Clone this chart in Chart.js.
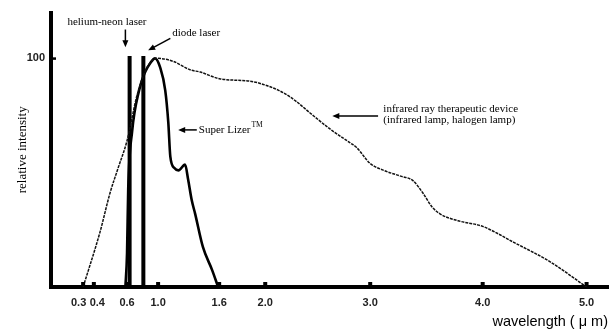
<!DOCTYPE html>
<html>
<head>
<meta charset="utf-8">
<script src="https://cdn.jsdelivr.net/npm/chart.js@4.4.1/dist/chart.umd.min.js"></script>
<style>
    html, body { margin: 0; padding: 0; background: #fff; }
    #wrap { width: 614px; height: 329px; }
</style>
</head>
<body>
<div id="wrap"><canvas id="spectrumChart"></canvas></div>
<script>
// wavelength ticks printed on the axis (µm)
const tickValues = [0.3, 0.4, 0.6, 1.0, 1.6, 2.0, 3.0, 4.0, 5.0];
const yTickValues = [100];
// the crowded 0.3 / 0.4 labels are pushed apart in the print
const tickLabelNudge = [-4.5, 3.5, 0, 0, 0, 0, 0, 0, 0];

// the printed axis is not evenly spaced: wavelength -> linear position
const axisKnotsValue = [0, 0.4, 0.6, 1.0, 1.6, 2.0, 3.0, 4.0, 5.0, 6.0];
const axisKnotsPos   = [0, 0.4, 0.71, 1.0, 1.57, 2.0, 2.98, 4.03, 5.0, 6.0];

// infrared lamp (halogen) spectrum
const lampX = [0.30, 0.437, 0.497, 0.546, 0.60, 0.73, 0.858, 0.987, 1.147, 1.315, 1.414, 1.61, 1.87, 2.02, 2.17,
               2.30, 2.43, 2.62, 2.81, 2.87, 3.0, 3.12, 3.27, 3.38, 3.47, 3.55, 3.62, 3.78, 4.0, 4.3, 4.65, 5.0];
const lampY = [0, 24, 41, 52, 64, 84, 96, 100, 98.7, 95, 94, 91, 90, 88, 85,
               81, 76, 69, 63, 61, 54, 51, 48.5, 46.5, 41, 35, 32, 29, 26.5, 19.5, 11, 0];

// Super Lizer spectrum
const lizerX = [0.59, 0.60, 0.615, 0.665, 0.755, 0.833, 0.90, 0.961, 1.02, 1.07, 1.10, 1.12, 1.16, 1.20,
                1.265, 1.295, 1.33, 1.364, 1.44, 1.53, 1.59];
const lizerY = [0, 15, 43, 68, 86, 94, 98, 100, 96, 86, 72, 57, 52, 51,
                53.5, 47, 38, 32, 17.5, 7.5, 0];

// laser lines
const heNeX = [0.633, 0.633];
const heNeY = [0, 101];
const diodeX = [0.81, 0.81];
const diodeY = [0, 101];

function interp(v, xs, ys) {
    for (let i = 1; i < xs.length; i++) {
        if (v <= xs[i]) {
            const t = (v - xs[i - 1]) / (xs[i] - xs[i - 1]);
            return ys[i - 1] + t * (ys[i] - ys[i - 1]);
        }
    }
    return ys[ys.length - 1];
}
const warp = v => interp(v, axisKnotsValue, axisKnotsPos);
const unwarp = u => interp(u, axisKnotsPos, axisKnotsValue);

// linear scale with the uneven spacing of the printed axis
class WarpScale extends Chart.LinearScale {
    getPixelForValue(value) {
        return value === null ? NaN : super.getPixelForValue(warp(value));
    }
    getValueForPixel(pixel) {
        return unwarp(super.getValueForPixel(pixel));
    }
    getPixelForTick(index) {
        return super.getPixelForTick(index) + (tickLabelNudge[index] || 0);
    }
}
WarpScale.id = 'warp';
WarpScale.defaults = Chart.LinearScale.defaults;
Chart.register(WarpScale);

const toPoints = (xs, ys) => xs.map((x, i) => ({x: x, y: ys[i]}));

// text and arrows, in data coordinates
const notes = [
    {text: 'helium-neon laser', x: 0.479, y: 115.7, align: 'center'},
    {text: 'diode laser', x: 1.138, y: 110.9, align: 'left'},
    {text: 'Super Lizer', x: 1.40, y: 68.7, align: 'left', sup: 'TM'},
    {text: 'infrared ray therapeutic device', x: 3.117, y: 77.8, align: 'left'},
    {text: '(infrared lamp, halogen lamp)', x: 3.117, y: 73.0, align: 'left'}
];
const arrows = [
    {from: [0.59, 112.6], to: [0.59, 104.8]},
    {from: [1.12, 108.7], to: [0.872, 103.5]},
    {from: [1.38, 68.7], to: [1.197, 68.7]},
    {from: [3.07, 74.8], to: [2.639, 74.8]}
];

const notesPlugin = {
    id: 'notes',
    afterDatasetsDraw(chart) {
        const {ctx, scales: {x, y}} = chart;
        ctx.save();
        ctx.fillStyle = '#000';
        ctx.strokeStyle = '#000';

        // tick marks sitting on the axes
        tickValues.forEach(v => {
            const px = x.getPixelForValue(v);
            ctx.fillRect(px - 2, y.bottom - 5, 4, 4);
        });
        yTickValues.forEach(v => {
            const py = y.getPixelForValue(v);
            ctx.fillRect(x.left, py - 1, 5, 2.5);
        });

        ctx.font = '11px "Liberation Serif", serif';
        ctx.textBaseline = 'middle';
        notes.forEach(n => {
            const px = x.getPixelForValue(n.x);
            const py = y.getPixelForValue(n.y);
            ctx.textAlign = n.align;
            ctx.fillText(n.text, px, py);
            if (n.sup) {
                const w = ctx.measureText(n.text).width;
                ctx.save();
                ctx.font = '7.5px "Liberation Serif", serif';
                ctx.textAlign = 'left';
                ctx.fillText(n.sup, px + w + 1, py - 5);
                ctx.restore();
            }
        });

        ctx.lineWidth = 1.5;
        arrows.forEach(a => {
            const x1 = x.getPixelForValue(a.from[0]), y1 = y.getPixelForValue(a.from[1]);
            const x2 = x.getPixelForValue(a.to[0]), y2 = y.getPixelForValue(a.to[1]);
            const ang = Math.atan2(y2 - y1, x2 - x1);
            const head = 7;
            ctx.beginPath();
            ctx.moveTo(x1, y1);
            ctx.lineTo(x2 - Math.cos(ang) * head * 0.8, y2 - Math.sin(ang) * head * 0.8);
            ctx.stroke();
            ctx.beginPath();
            ctx.moveTo(x2, y2);
            ctx.lineTo(x2 - head * Math.cos(ang) + 3 * Math.sin(ang), y2 - head * Math.sin(ang) - 3 * Math.cos(ang));
            ctx.lineTo(x2 - head * Math.cos(ang) - 3 * Math.sin(ang), y2 - head * Math.sin(ang) + 3 * Math.cos(ang));
            ctx.closePath();
            ctx.fill();
        });
        ctx.restore();
    }
};

const ctx = document.getElementById('spectrumChart').getContext('2d');
const spectrumChart = new Chart(ctx, {
    type: 'line',
    data: {
        datasets: [
            {
                label: 'infrared ray therapeutic device',
                data: toPoints(lampX, lampY),
                borderColor: '#111',
                borderWidth: 1.5,
                borderDash: [3, 1],
                cubicInterpolationMode: 'monotone',
                pointRadius: 0
            },
            {
                label: 'Super Lizer',
                data: toPoints(lizerX, lizerY),
                borderColor: '#000',
                borderWidth: 2.6,
                cubicInterpolationMode: 'monotone',
                pointRadius: 0
            },
            {
                label: 'helium-neon laser',
                data: toPoints(heNeX, heNeY),
                borderColor: '#000',
                borderWidth: 4,
                tension: 0,
                pointRadius: 0
            },
            {
                label: 'diode laser',
                data: toPoints(diodeX, diodeY),
                borderColor: '#000',
                borderWidth: 4,
                tension: 0,
                pointRadius: 0
            }
        ]
    },
    options: {
        responsive: true,
        maintainAspectRatio: false,
        animation: false,
        layout: { padding: { top: 11, right: 6, left: 0, bottom: 0 } },
        plugins: {
            legend: { display: false },
            tooltip: { enabled: false }
        },
        scales: {
            x: {
                type: 'warp',
                min: 0,
                max: 5.2,
                grid: { display: false, drawTicks: false },
                border: { display: true, width: 4, color: '#000' },
                afterBuildTicks: scale => { scale.ticks = tickValues.map(v => ({value: v})); },
                afterFit: scale => { scale.height = 42; },
                ticks: {
                    padding: 9,
                    autoSkip: false,
                    maxRotation: 0,
                    color: '#222',
                    font: { family: '"Liberation Sans", Arial, sans-serif', size: 11, weight: 'bold' },
                    callback: v => v.toFixed(1)
                },
                title: {
                    display: true,
                    text: 'wavelength ( μ m)',
                    align: 'end',
                    color: '#000',
                    padding: { top: 0, bottom: 0 },
                    font: { family: '"Liberation Sans", Arial, sans-serif', size: 14.5, lineHeight: 1 }
                }
            },
            y: {
                min: 0,
                max: 120,
                grid: { display: false, drawTicks: false },
                border: { display: true, width: 4, color: '#000' },
                afterBuildTicks: scale => { scale.ticks = yTickValues.map(v => ({value: v})); },
                afterFit: scale => { scale.width = 51; },
                ticks: {
                    padding: 6,
                    color: '#222',
                    font: { family: '"Liberation Sans", Arial, sans-serif', size: 11, weight: 'bold' }
                },
                title: {
                    display: true,
                    text: 'relative intensity',
                    color: '#000',
                    padding: { top: 16, bottom: 0 },
                    font: { family: '"Liberation Serif", serif', size: 13, lineHeight: 1 }
                }
            }
        }
    },
    plugins: [notesPlugin]
});
</script>
</body>
</html>
